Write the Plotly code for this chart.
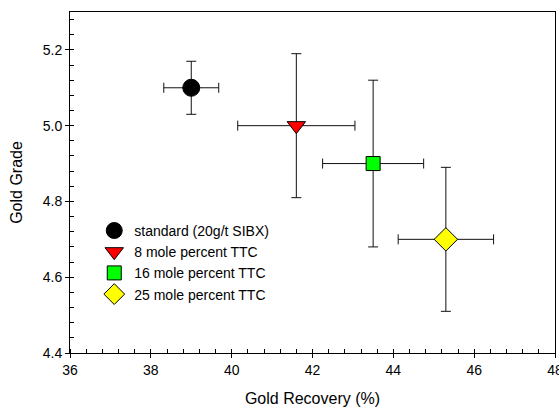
import plotly.graph_objects as go

# Flotation results: gold recovery vs. gold grade, with standard deviations
series_names = [
    "standard (20g/t SIBX)",
    "8 mole percent TTC",
    "16 mole percent TTC",
    "25 mole percent TTC",
]
recovery = [39.0, 41.6, 43.5, 45.3]
recovery_err = [0.68, 1.45, 1.25, 1.18]
grade = [5.10, 5.00, 4.90, 4.70]
grade_err = [0.07, 0.19, 0.22, 0.19]

x_ticks = [36, 38, 40, 42, 44, 46, 48]
y_ticks = [4.4, 4.6, 4.8, 5.0, 5.2]

symbols = ["circle", "triangle-down", "square", "diamond"]
fills = ["#000000", "#ff0000", "#00ff00", "#ffff00"]
sizes = [17, 16, 14, 18]

FONT = "Liberation Sans, Arial, sans-serif"

fig = go.Figure()
for i, name in enumerate(series_names):
    fig.add_trace(go.Scatter(
        x=[recovery[i]], y=[grade[i]], name=name, mode="markers",
        marker=dict(symbol=symbols[i], color=fills[i], size=sizes[i],
                    line=dict(color="#000000", width=1)),
        error_x=dict(type="data", array=[recovery_err[i]], color="#111111",
                     thickness=1, width=5),
        error_y=dict(type="data", array=[grade_err[i]], color="#111111",
                     thickness=1, width=5),
    ))

# invisible trace to hold the secondary (inward major tick) axes
fig.add_trace(go.Scatter(x=[36], y=[4.4], xaxis="x2", yaxis="y2",
                         mode="markers", marker=dict(opacity=0),
                         showlegend=False, hoverinfo="skip"))

axis_common = dict(showgrid=False, zeroline=False, linecolor="#000000",
                   linewidth=1, tickcolor="#000000", ticklen=4, tickwidth=1,
                   ticklabeloverflow="allow", automargin=False,
                   tickfont=dict(family=FONT, size=14, color="#000000"))

X_RANGE = [36, 48]
Y_RANGE = [4.4, 5.3]

fig.update_layout(
    width=559, height=410,
    margin=dict(l=70, r=4, t=12, b=57),
    paper_bgcolor="white", plot_bgcolor="white",
    font=dict(family=FONT, color="#000000"),
    xaxis=dict(range=X_RANGE, tickvals=x_ticks, ticks="outside",
               mirror=True, showline=True,
               minor=dict(dtick=0.4, tick0=36, ticks="inside", ticklen=4,
                          tickcolor="#000000"),
               title=dict(text="Gold Recovery (%)", standoff=16,
                          font=dict(family=FONT, size=16)),
               **axis_common),
    yaxis=dict(range=Y_RANGE, tickvals=y_ticks, tickformat=".1f",
               ticks="outside", mirror=True, showline=True,
               minor=dict(dtick=0.04, tick0=4.4, ticks="inside", ticklen=4,
                          tickcolor="#000000"),
               title=dict(text="Gold Grade", standoff=16,
                          font=dict(family=FONT, size=16)),
               **axis_common),
    xaxis2=dict(range=X_RANGE, overlaying="x", anchor="y", side="bottom",
                tickvals=x_ticks, ticks="inside", showticklabels=False,
                showline=False, showgrid=False, zeroline=False,
                tickcolor="#000000", ticklen=4),
    yaxis2=dict(range=Y_RANGE, overlaying="y", anchor="x", side="left",
                tickvals=y_ticks, ticks="inside", showticklabels=False,
                showline=False, showgrid=False, zeroline=False,
                tickcolor="#000000", ticklen=4),
    legend=dict(x=0.05, y=0.405, xanchor="left", yanchor="top",
                bgcolor="rgba(0,0,0,0)", font=dict(family=FONT, size=14),
                itemsizing="trace", tracegroupgap=0),
    showlegend=True,
)

fig.write_html("out.html")
